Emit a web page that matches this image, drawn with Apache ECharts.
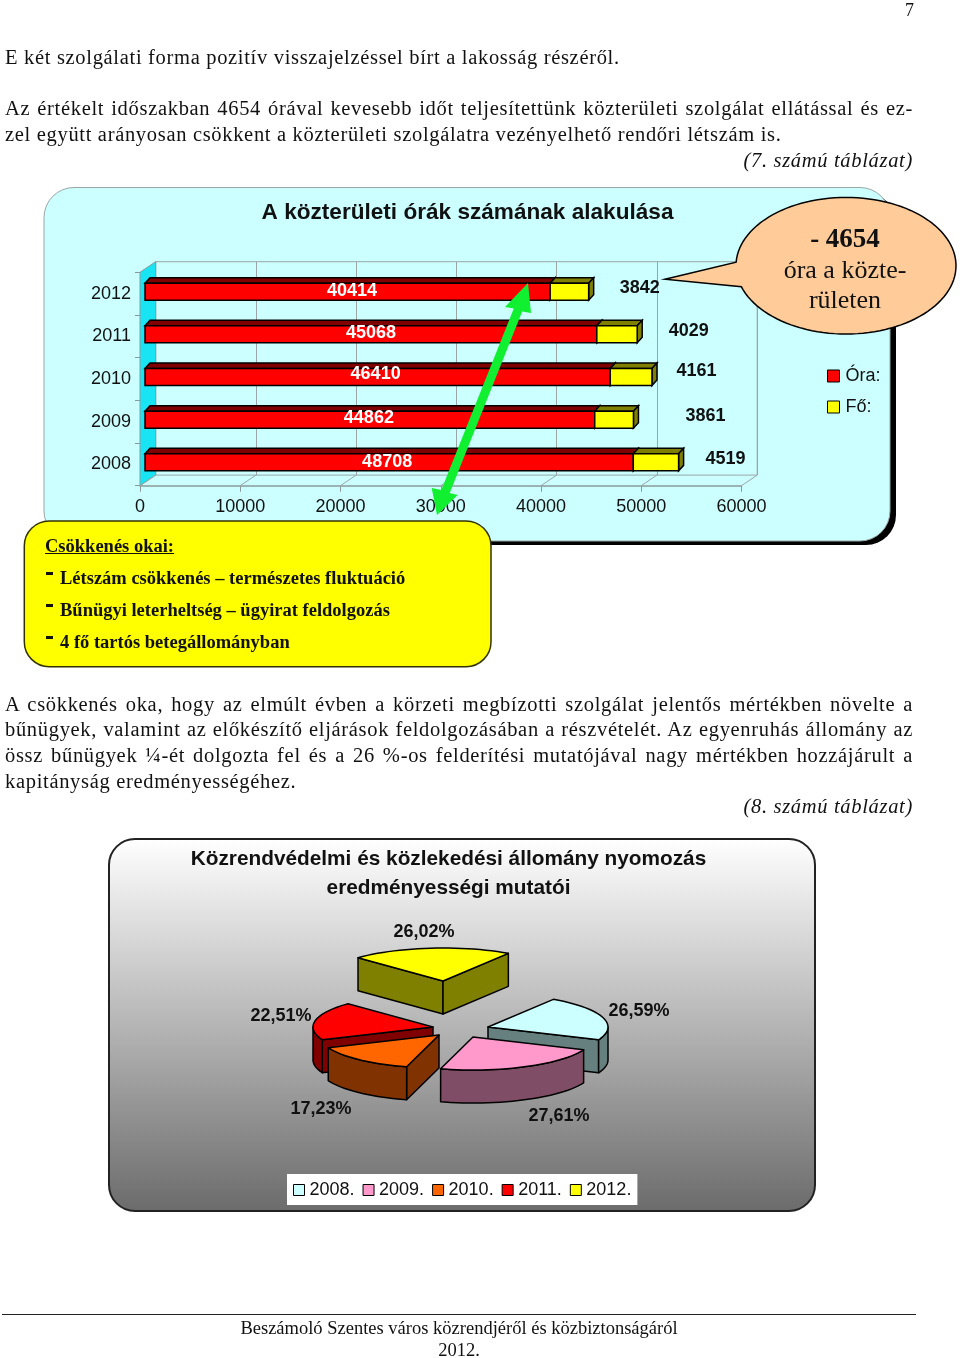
<!DOCTYPE html>
<html>
<head>
<meta charset="utf-8">
<title>A közterületi órák számának alakulása</title>
<script src="https://cdn.jsdelivr.net/npm/echarts@6/dist/echarts.min.js"></script>
<style>
html,body{margin:0;padding:0;background:#fff;}
#page{position:relative;width:960px;height:1358px;overflow:hidden;}
#chart{position:absolute;left:0;top:0;width:960px;height:1358px;}
.ln{position:absolute;left:5px;width:908px;font:20.5px/26px "Liberation Serif",serif;letter-spacing:.68px;color:#111;white-space:nowrap;z-index:2;}
.j{text-align-last:justify;white-space:normal;}
.r{text-align:right;font-style:italic;}
.c{text-align:center;left:0;width:918px;font-size:18.5px;line-height:22px;letter-spacing:0;}
.b{position:absolute;left:60px;font:bold 18.5px/22px "Liberation Serif",serif;color:#111;white-space:nowrap;z-index:2;}
.b i{position:absolute;left:-14px;top:5px;width:7px;height:3px;background:#111;}
</style>
</head>
<body>
<div id="page">
<div id="chart"></div>

<div class="ln" style="left:905px;width:auto;top:-3px;font-size:18px">7</div>
<div class="ln" style="top:44px">E két szolgálati forma pozitív visszajelzéssel bírt a lakosság részéről.</div>
<div class="ln j" style="top:95px">Az értékelt időszakban 4654 órával kevesebb időt teljesítettünk közterületi szolgálat ellátással és ez-</div>
<div class="ln" style="top:121px">zel együtt arányosan csökkent a közterületi szolgálatra vezényelhető rendőri létszám is.</div>
<div class="ln r" style="top:147px">(7. számú táblázat)</div>

<div class="b" style="left:45px;top:535px;text-decoration:underline">Csökkenés okai:</div>
<div class="b" style="top:567px"><i></i>Létszám csökkenés – természetes fluktuáció</div>
<div class="b" style="top:599px"><i></i>Bűnügyi leterheltség – ügyirat feldolgozás</div>
<div class="b" style="top:631px"><i></i>4 fő tartós betegállományban</div>

<div class="ln j" style="top:691px">A csökkenés oka, hogy az elmúlt évben a körzeti megbízotti szolgálat jelentős mértékben növelte a</div>
<div class="ln j" style="top:716px">bűnügyek, valamint az előkészítő eljárások feldolgozásában a részvételét. Az egyenruhás állomány az</div>
<div class="ln j" style="top:742px">össz bűnügyek ¼-ét dolgozta fel és a 26 %-os felderítési mutatójával nagy mértékben hozzájárult a</div>
<div class="ln" style="top:768px">kapitányság eredményességéhez.</div>
<div class="ln r" style="top:793px">(8. számú táblázat)</div>

<div style="position:absolute;left:2px;top:1314px;width:914px;height:1px;background:#222"></div>
<div class="ln c" style="top:1317px">Beszámoló Szentes város közrendjéről és közbiztonságáról</div>
<div class="ln c" style="top:1339px">2012.</div>
</div>

<script>
// adatok
const years = ['2008', '2009', '2010', '2011', '2012']
const hours = [48708, 44862, 46410, 45068, 40414]
const staff = [4519, 3861, 4161, 4029, 3842]
const xTicks = [0, 10000, 20000, 30000, 40000, 50000, 60000]

const pieNames = ['2008.', '2009.', '2010.', '2011.', '2012.']
const pieValues = [26.59, 27.61, 17.23, 22.51, 26.02]

const sans = '"Liberation Sans", Arial, sans-serif'
const serif = '"Liberation Serif", "Times New Roman", serif'

// a kézzel elhúzott feliratok eltolása (sávközéphez képest)
const hourLabelShift = [[-2, -2.6], [-1, -3.9], [-2, -5.2], [0, -3.5], [4.5, -2.8]]
const staffLabelShift = [[47, -5.6], [72, -5.9], [44.5, -8.2], [51.5, -5.5], [51, -5.8]]

function renderBar(labelShift, labelColor, faces) {
    return function (params, api) {
        let from = api.value(0)
        let to = api.value(1)
        let cat = api.value(2)
        let a = api.coord([from, cat])
        let b = api.coord([to, cat])
        let x0 = a[0] + 5
        let x1 = b[0] + 5
        let y0 = a[1] - 10.5
        let y1 = y0 + 17
        let dx = 5
        let dy = 5.5
        let line = { stroke: '#000', lineWidth: 1.5 }
        let shift = labelShift[cat]
        let labelX = labelColor === '#fff' ? (x0 + x1) / 2 + shift[0] : x1 + shift[0]
        return {
            type: 'group',
            children: [
                { type: 'polygon', shape: { points: [[x0, y0], [x0 + dx, y0 - dy], [x1 + dx, y0 - dy], [x1, y0]] }, style: { fill: faces.top, ...line } },
                { type: 'polygon', shape: { points: [[x1, y0], [x1 + dx, y0 - dy], [x1 + dx, y1 - dy], [x1, y1]] }, style: { fill: faces.top, ...line } },
                { type: 'rect', shape: { x: x0, y: y0, width: x1 - x0, height: y1 - y0 }, style: { fill: faces.front, ...line } },
                {
                    type: 'text', z2: 5,
                    style: {
                        text: String(to - from), x: labelX, y: a[1] + shift[1],
                        fill: labelColor, font: 'bold 18px ' + sans, align: 'center', verticalAlign: 'middle'
                    }
                }
            ]
        }
    }
}

// bal fal és padló a tengelyekből
function renderFloor(params, api) {
    let sys = params.coordSys
    let t = api.value(0)
    let p = api.coord([t, 0])
    let bottom = sys.y + sys.height
    let depthX = 15.7
    let depthY = 10.6
    let children = [{
        type: 'line',
        shape: { x1: p[0], y1: bottom, x2: p[0] + depthX, y2: bottom - depthY },
        style: { stroke: '#9aa6a6', lineWidth: 1 }
    }]
    if (t === 0) {
        children.unshift({
            type: 'polygon',
            shape: { points: [[p[0], sys.y], [p[0] + depthX, sys.y - depthY], [p[0] + depthX, bottom - depthY], [p[0], bottom]] },
            style: { fill: '#19e4f4', stroke: '#8a9a9a', lineWidth: 1 }
        })
    }
    return { type: 'group', children: children }
}

// robbantott térhatású kör
const pieColors = [
    { top: '#ccffff', side: '#668080' },
    { top: '#ff99cc', side: '#804d66' },
    { top: '#ff6600', side: '#803300' },
    { top: '#ff0000', side: '#800000' },
    { top: '#ffff00', side: '#808000' }
]
const pieApex = [[488, 1027], [473, 1037], [439, 1035], [433, 1027], [443, 981]]
const pieLabelPos = [[639, 1011], [559, 1116], [321, 1109], [281, 1016], [424, 932]]
const pieStart = 33
const pieRx = 120
const pieRy = 33
const pieDepth = 33
const pieTotal = pieValues.reduce((s, v) => s + v, 0)

function renderSlice(index) {
    return function (params, api) {
        let value = api.value(0)
        let before = pieValues.slice(0, index).reduce((s, v) => s + v, 0)
        let a0 = pieStart + before / pieTotal * 360
        let a1 = a0 + value / pieTotal * 360
        let apex = pieApex[index]
        let at = deg => {
            let r = deg * Math.PI / 180
            return [apex[0] + pieRx * Math.sin(r), apex[1] - pieRy * Math.cos(r)]
        }
        let down = p => [p[0], p[1] + pieDepth]
        let arc = (from, to) => {
            let pts = []
            for (let d = from; d < to; d += 3) pts.push(at(d))
            pts.push(at(to))
            return pts
        }
        let norm = d => ((d % 360) + 360) % 360
        let facing = d => norm(d) > 90 && norm(d) < 270
        let line = { stroke: '#000', lineWidth: 1.5, lineJoin: 'round' }
        let side = { fill: pieColors[index].side, ...line }
        let children = []
        let wall = p => ({ type: 'polygon', shape: { points: [apex, p, down(p), down(apex)] }, style: side })
        if (facing(a0 - 90)) children.push(wall(at(a0)))
        if (facing(a1 + 90)) children.push(wall(at(a1)))
        // külső palást: csak az elöl lévő rész
        for (let k = 0; k <= 1; k++) {
            let from = Math.max(a0, 90 + 360 * k)
            let to = Math.min(a1, 270 + 360 * k)
            if (to > from) {
                let top = arc(from, to)
                children.push({ type: 'polygon', shape: { points: top.concat(top.map(down).reverse()) }, style: side })
            }
        }
        children.push({
            type: 'polygon',
            shape: { points: [apex].concat(arc(a0, a1)) },
            style: { fill: pieColors[index].top, ...line }
        })
        children.push({
            type: 'text', z2: 5,
            style: {
                text: value.toFixed(2).replace('.', ',') + '%',
                x: pieLabelPos[index][0], y: pieLabelPos[index][1],
                fill: '#111', font: 'bold 18px ' + sans, align: 'center', verticalAlign: 'middle'
            }
        })
        return { type: 'group', children: children }
    }
}

const pieOrder = [4, 3, 0, 1, 2]
const pieSeries = pieNames.map((name, i) => ({
    name: name,
    type: 'custom',
    coordinateSystem: 'none',
    z: 10 + pieOrder.indexOf(i),
    silent: true,
    itemStyle: { color: pieColors[i].top },
    renderItem: renderSlice(i),
    data: [[pieValues[i]]]
}))

// buborék körvonala: ellipszis + csúcs
function calloutPoints() {
    let pts = []
    for (let d = -87; d <= 252; d += 3) {
        let r = d * Math.PI / 180
        pts.push([846 + 110 * Math.sin(r), 265.7 - 68.3 * Math.cos(r)])
    }
    pts.push([665, 279.3])
    return pts
}

const chart = echarts.init(document.getElementById('chart'), null, { renderer: 'canvas' })

chart.setOption({
    animation: false,
    textStyle: { fontFamily: sans },
    title: [{
        text: 'A közterületi órák számának alakulása',
        left: 467.5, top: 200, textAlign: 'center', padding: 0,
        textStyle: { fontFamily: sans, fontWeight: 'bold', fontSize: 22.6, color: '#111', lineHeight: 26 }
    }, {
        text: 'Közrendvédelmi és közlekedési állomány nyomozás\neredményességi mutatói',
        left: 448.5, top: 845, textAlign: 'center', padding: 0,
        textStyle: { fontFamily: sans, fontWeight: 'bold', fontSize: 20.8, color: '#111', lineHeight: 29 }
    }],
    legend: [{
        orient: 'vertical', left: 827, top: 367, padding: 0, itemGap: 13,
        itemWidth: 12, itemHeight: 12, icon: 'rect',
        itemStyle: { borderColor: '#000', borderWidth: 1 },
        textStyle: { fontSize: 18, color: '#111', fontFamily: sans, padding: [0, 0, 0, 1] },
        selectedMode: false,
        data: ['Óra:', 'Fő:']
    }, {
        left: 287, top: 1174, width: 351, padding: [7, 6, 6, 6], itemGap: 8,
        itemWidth: 11, itemHeight: 11, icon: 'rect',
        backgroundColor: '#fff',
        itemStyle: { borderColor: '#000', borderWidth: 1 },
        textStyle: { fontSize: 18, color: '#111', fontFamily: sans },
        selectedMode: false,
        data: pieNames
    }],
    grid: [
        { left: 140, top: 272.3, width: 601.5, height: 213.4 },
        { left: 155.7, top: 261.7, width: 601.5, height: 213.4, show: true, backgroundColor: 'transparent', borderColor: '#9aa6a6', borderWidth: 1 }
    ],
    xAxis: [{
        type: 'value', gridIndex: 0, min: 0, max: 60000, interval: 10000,
        axisLine: { show: true, lineStyle: { color: '#8a9a9a', width: 1.5 } },
        axisTick: { show: true, length: 6, lineStyle: { color: '#8a9a9a' } },
        axisLabel: { fontSize: 18, color: '#111', fontFamily: sans, margin: 12, showMinLabel: true, showMaxLabel: true, formatter: v => String(v) },
        splitLine: { show: false }
    }, {
        type: 'value', gridIndex: 1, min: 0, max: 60000, interval: 10000,
        axisLine: { show: false }, axisTick: { show: false }, axisLabel: { show: false },
        splitLine: { show: true, lineStyle: { color: '#9aa6a6', width: 1 } }
    }],
    yAxis: [{
        type: 'category', gridIndex: 0, data: years,
        axisLine: { show: true, lineStyle: { color: '#8a9a9a', width: 1 } },
        axisTick: { show: true, length: 5, lineStyle: { color: '#8a9a9a' } },
        axisLabel: { fontSize: 18, color: '#111', fontFamily: sans, margin: 9 }
    }, {
        type: 'category', gridIndex: 1, data: years, show: false
    }],
    series: [{
        name: 'floor',
        type: 'custom',
        xAxisIndex: 0, yAxisIndex: 0,
        z: 1, silent: true,
        renderItem: renderFloor,
        encode: { x: 0 },
        data: xTicks.map(t => [t])
    }, {
        name: 'Óra:',
        type: 'custom',
        xAxisIndex: 0, yAxisIndex: 0,
        z: 3, silent: true,
        itemStyle: { color: '#ff0000' },
        renderItem: renderBar(hourLabelShift, '#fff', { front: '#ff0000', top: '#800000' }),
        encode: { x: [0, 1], y: 2 },
        data: hours.map((v, i) => [0, v, i])
    }, {
        name: 'Fő:',
        type: 'custom',
        xAxisIndex: 0, yAxisIndex: 0,
        z: 4, silent: true,
        itemStyle: { color: '#ffff00' },
        renderItem: renderBar(staffLabelShift, '#111', { front: '#ffff00', top: '#808000' }),
        encode: { x: [0, 1], y: 2 },
        data: hours.map((v, i) => [v, v + staff[i], i])
    }].concat(pieSeries),
    graphic: [
        // felső panel árnyékkal
        { type: 'rect', z: -10, shape: { x: 50, y: 193, width: 846, height: 352, r: 30 }, style: { fill: '#000' } },
        { type: 'rect', z: -9, shape: { x: 44, y: 187.5, width: 846, height: 353.5, r: 30 }, style: { fill: '#ccffff', stroke: '#9aa6a6', lineWidth: 1 } },
        // alsó panel
        {
            type: 'rect', z: -9,
            shape: { x: 109, y: 839, width: 706, height: 372, r: 26 },
            style: {
                stroke: '#222', lineWidth: 2,
                fill: { type: 'linear', x: 0, y: 0, x2: 0, y2: 1, colorStops: [{ offset: 0, color: '#ffffff' }, { offset: 1, color: '#6b6b6b' }] }
            }
        },
        // buborék
        {
            type: 'polygon', z: 50,
            shape: { points: calloutPoints() },
            style: { fill: '#ffcc99', stroke: '#000', lineWidth: 1.5 }
        },
        { type: 'text', z: 51, style: { text: '- 4654', x: 845, y: 240, align: 'center', verticalAlign: 'middle', font: 'bold 27px ' + serif, fill: '#111' } },
        { type: 'text', z: 51, style: { text: 'óra a közte-', x: 845, y: 271, align: 'center', verticalAlign: 'middle', font: '26px ' + serif, fill: '#111' } },
        { type: 'text', z: 51, style: { text: 'rületen', x: 845, y: 301, align: 'center', verticalAlign: 'middle', font: '26px ' + serif, fill: '#111' } },
        // zöld nyíl
        {
            type: 'polygon', z: 50,
            shape: { points: [[528, 283], [531, 313], [522.2, 311.6], [449.7, 493], [457.7, 495], [437, 515], [431.7, 488], [441.3, 490], [513.8, 308.4], [505, 307]] },
            style: { fill: '#10f030' }
        },
        // sárga doboz
        {
            type: 'rect', z: 50,
            shape: { x: 24.3, y: 521, width: 466.7, height: 145.7, r: 25 },
            style: { fill: '#ffff00', stroke: '#333300', lineWidth: 1.5 }
        }
    ]
})
</script>
</body>
</html>
